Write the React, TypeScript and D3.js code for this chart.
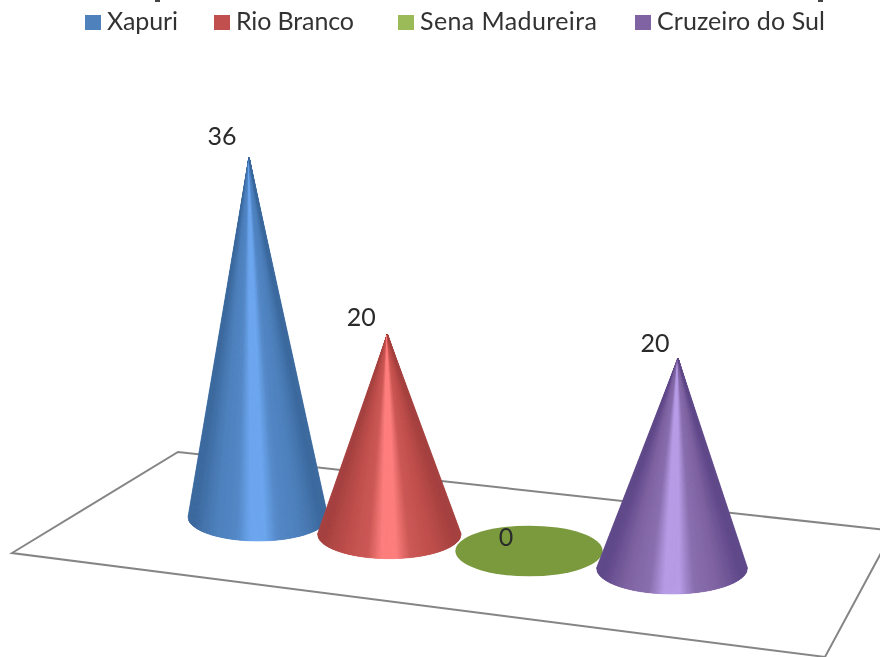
import React from "react";
import * as d3 from "d3";

const categories = ["Xapuri", "Rio Branco", "Sena Madureira", "Cruzeiro do Sul"];
const values = [36, 20, 0, 20];
const baseColors = ["#4f81bd", "#c0504d", "#9bbb59", "#8064a2"];
const lightColors = ["#6ea8f0", "#ff8080", "#c0e070", "#b99ee8"];
const darkColors = ["#3c6a9e", "#a54240", "#7a963f", "#60498a"];
const floorColor = "#7a9a3e";

const W = 880;
const H = 657;

const xScale = d3.scalePow().exponent(1.045).domain([0, 3]).range([258, 672]);
const cyScale = d3.scaleLinear().domain([0, 3]).range([517, 568]);
const rxScale = d3.scaleLinear().domain([0, 3]).range([70, 75.5]);
const ryScale = d3.scaleLinear().domain([0, 3]).range([24, 26]);
const leanScale = d3.scaleLinear().domain([0, 1, 3]).range([-9, -2, 6]);
const heightScale = d3.scaleLinear().domain([0, 36]).range([0, 360]);
const depthScale = d3.scaleLinear().domain([0, 1, 3]).range([1, 1, 1.05]);

const floorLine = d3.line();
const floorOutline: [number, number][] = [[895, 531], [178, 452], [12, 553], [825, 657], [895, 527]];

const legendX = [85, 214, 398, 635];
const legendWidths = [71, 118, 177, 168];
const labelOffset = [[-27, -12], [-26, -8], [-25, -5], [-23, -6]];
const cropMarks = [155, 818];

const SLICES = 150;

function shade(i: number, t: number) {
  const a = Math.abs(t);
  const ramp = d3.scaleLinear<string>()
    .domain([0, 0.1, 0.3, 0.6, 0.92, 1])
    .range([
      lightColors[i],
      lightColors[i],
      d3.interpolateRgb(lightColors[i], baseColors[i])(0.8),
      baseColors[i],
      darkColors[i],
      darkColors[i],
    ])
    .interpolate(d3.interpolateRgb);
  return ramp(a);
}

function Cone({ i, v }: { i: number; v: number }) {
  const cx = xScale(i);
  const cy = cyScale(i);
  const rx = rxScale(i);
  const ry = ryScale(i);
  if (v === 0) {
    return <ellipse cx={cx} cy={cy} rx={rx} ry={ry} fill={floorColor} />;
  }
  const ax = cx + leanScale(i);
  const ay = cy - heightScale(v) * depthScale(i);
  const fractions = d3.range(SLICES + 1).map((k) => k / SLICES);
  const pts = fractions.map((f) => {
    const a = Math.acos(1 - 2 * f);
    return [cx - rx * Math.cos(a), cy + ry * Math.sin(a)] as [number, number];
  });
  return (
    <g>
      <path d={d3.line()([[ax, ay], ...pts]) + "Z"} fill={baseColors[i]} />
      {d3.range(SLICES).map((k) => {
        const p = pts[k];
        const q = pts[k + 1];
        const t = ((p[0] + q[0]) / 2 - cx) / rx;
        const c = shade(i, t);
        return (
          <path
            key={k}
            d={d3.line()([[ax, ay], p, q]) + "Z"}
            fill={c}
            stroke={c}
            strokeWidth={0.6}
          />
        );
      })}
    </g>
  );
}

export default function App() {
  return (
    <svg
      width={W}
      height={H}
      viewBox={`0 0 ${W} ${H}`}
      style={{ position: "absolute", left: 0, top: 0, background: "#fff", fontFamily: "Lato, 'Open Sans', sans-serif" }}
    >
      <defs>
        <filter id="soft" x="-5%" y="-5%" width="110%" height="110%">
          <feGaussianBlur stdDeviation="0.6" />
        </filter>
        <filter id="softer" x="-5%" y="-5%" width="110%" height="110%">
          <feGaussianBlur stdDeviation="0.75" />
        </filter>
      </defs>
      {cropMarks.map((x) => (
        <rect key={x} x={x} y={0} width={5} height={2} fill="#444" />
      ))}
      <g filter="url(#soft)">
        <path d={floorLine(floorOutline) ?? ""} fill="none" stroke="#858585" strokeWidth={2} />
      </g>
      <g filter="url(#softer)">
        {values.map((v, i) => (
          <Cone key={categories[i]} i={i} v={v} />
        ))}
      </g>
      <g filter="url(#soft)">
        {values.map((v, i) => (
          <text
            key={categories[i]}
            x={xScale(i) + leanScale(i) + labelOffset[i][0]}
            y={cyScale(i) - heightScale(v) * depthScale(i) + labelOffset[i][1]}
            fontSize={25}
            fill="#2a2a2a"
            textAnchor="middle"
          >
            {v}
          </text>
        ))}
        {categories.map((c, i) => (
          <g key={c}>
            <rect x={legendX[i]} y={15} width={16} height={15} fill={baseColors[i]} />
            <text x={legendX[i] + 22} y={30} fontSize={25} fill="#333" textLength={legendWidths[i]}>
              {c}
            </text>
          </g>
        ))}
      </g>
    </svg>
  );
}
